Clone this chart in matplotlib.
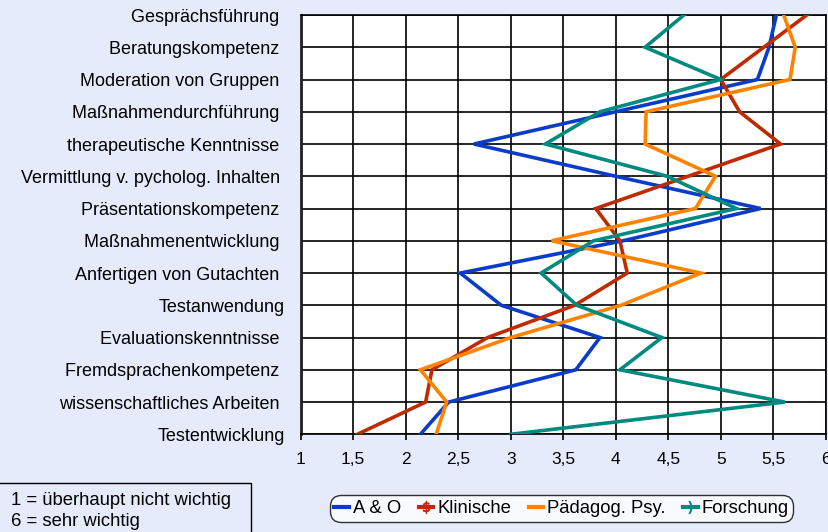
import matplotlib
matplotlib.use("Agg")
import matplotlib.pyplot as plt
from matplotlib import font_manager
from matplotlib.lines import Line2D
from matplotlib.patches import Rectangle

categories = [
    "Gesprächsführung ", "Beratungskompetenz ", "Moderation von Gruppen ",
    "Maßnahmendurchführung ", "therapeutische Kenntnisse ",
    "Vermittlung v. pycholog. Inhalten ", "Präsentationskompetenz ",
    "Maßnahmenentwicklung ", "Anfertigen von Gutachten ", "Testanwendung",
    "Evaluationskenntnisse ", "Fremdsprachenkompetenz ",
    "wissenschaftliches Arbeiten ", "Testentwicklung",
]
a_und_o = [5.53, 5.46, 5.35, 4.00, 2.65, 4.00, 5.38, 4.07, 2.52, 2.91, 3.85, 3.62, 2.41, 2.14]
klinische = [5.82, 5.41, 5.00, 5.18, 5.57, 4.69, 3.81, 4.04, 4.11, 3.61, 2.78, 2.25, 2.19, 1.54]
paedagog = [5.60, 5.71, 5.66, 4.29, 4.28, 4.95, 4.76, 3.39, 4.81, 4.05, 3.00, 2.14, 2.39, 2.29]
forschung = [4.65, 4.28, 5.00, 3.85, 3.33, 4.49, 5.15, 3.79, 3.29, 3.63, 4.44, 4.04, 5.61, 3.00]
series_names = ["A & O", "Klinische", "Pädagog. Psy.", "Forschung"]
xticks = [1, 1.5, 2, 2.5, 3, 3.5, 4, 4.5, 5, 5.5, 6]
xticklabels = ["1", "1,5", "2", "2,5", "3", "3,5", "4", "4,5", "5", "5,5", "6"]
note_lines = ["1 = überhaupt nicht wichtig", "6 = sehr wichtig"]

colors = ["#0A3CC8", "#C02A00", "#FF8200", "#008A80"]

names = {f.name for f in font_manager.fontManager.ttflist}
base = "Liberation Sans" if "Liberation Sans" in names else "DejaVu Sans"
plt.rcParams["font.family"] = [base, "DejaVu Sans"]

W, H = 829, 532
fig = plt.figure(figsize=(W / 100, H / 100), dpi=100)
fig.patch.set_facecolor("#E6EBFB")

left, right, top, bottom = 300.7, 825.7, 15.0, 434.3
ax = fig.add_axes([left / W, 1 - bottom / H, (right - left) / W, (bottom - top) / H])
ax.set_facecolor("white")

y = list(range(len(categories)))
for vals, c, n in zip([a_und_o, klinische, paedagog, forschung], colors, series_names):
    ax.plot(vals, y, color=c, lw=2.6, label=n, solid_joinstyle="miter", clip_on=True, zorder=3)

ax.set_xlim(1, 6)
ax.set_ylim(len(categories) - 1, 0)
ax.set_yticks(y)
ax.set_yticklabels(categories, fontsize=13)
ax.set_xticks(xticks)
ax.set_xticklabels(xticklabels, fontsize=12.5)
ax.tick_params(axis="y", length=0, pad=11.5)
ax.tick_params(axis="x", length=4, width=1.2, direction="out", pad=9, color="black")
ax.grid(True, color="black", lw=1.2, zorder=1)
for s in ["top", "right", "bottom"]:
    ax.spines[s].set_color("black")
    ax.spines[s].set_linewidth(1.2)
ax.spines["left"].set_color("#202020")
ax.spines["left"].set_linewidth(2.0)

# legend
handles = [
    Line2D([0], [0], color=colors[0], lw=3),
    Line2D([0], [0], color=colors[1], lw=3, marker="$\\$$", markersize=9,
           markeredgewidth=0.6),
    Line2D([0], [0], color=colors[2], lw=3),
    Line2D([0], [0], color=colors[3], lw=3, marker="$)$", markersize=9,
           markeredgewidth=0.6),
]
leg = fig.legend(handles, series_names, loc="center", ncol=4, numpoints=1,
                 bbox_to_anchor=(561.5 / W, 1 - 508.5 / H),
                 prop={"family": base, "size": 13.3},
                 handlelength=0.8, handletextpad=0.2, columnspacing=0.95,
                 borderpad=0.25, borderaxespad=0, frameon=True, fancybox=True)
leg.get_frame().set_edgecolor("black")
leg.get_frame().set_linewidth(1.0)
leg.get_frame().set_boxstyle("round", pad=0.0, rounding_size=0.6)

# note box
fig.patches.append(Rectangle((-5 / W, -10 / H), 256 / W, (532 - 483 + 10) / H,
                             transform=fig.transFigure, facecolor="none",
                             edgecolor="black", lw=1.0))
nprop = dict(family=base, fontsize=13.3)
fig.text(11 / W, 1 - 500.5 / H, note_lines[0], va="center", ha="left", **nprop)
fig.text(11 / W, 1 - 522 / H, note_lines[1], va="center", ha="left", **nprop)

fig.savefig("out.png", dpi=100, facecolor=fig.get_facecolor())
